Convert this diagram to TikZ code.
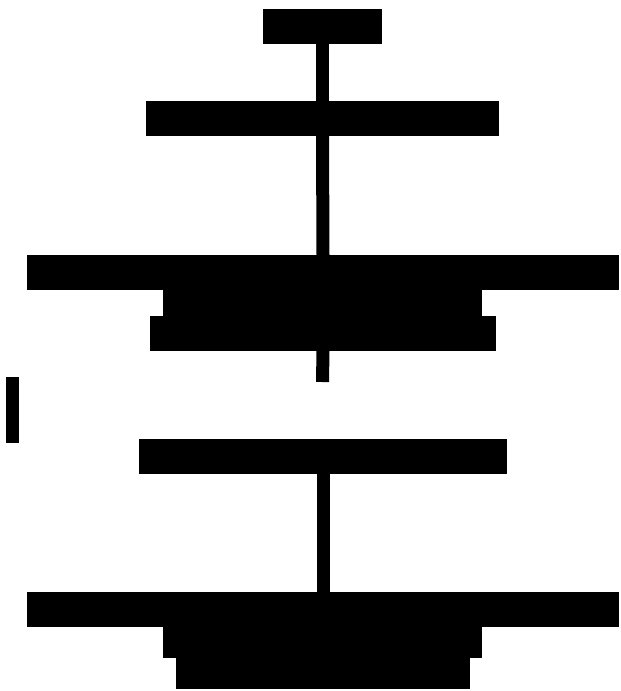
\documentclass[tikz,border=0pt]{standalone}
\usepackage{tikz}

\begin{document}
\begin{tikzpicture}[x=0.03cm,y=-0.03cm,
  blk/.style={fill=black,draw=none,inner sep=0pt,outer sep=0pt},
  stem/.style={line width=0.39cm,black}]
  \useasboundingbox (0,0) rectangle (621,691);
  % upper tree
  \node[blk,minimum width=3.57cm,minimum height=1.05cm] (top) at (322.5,26.5) {};
  \node[blk,minimum width=10.59cm,minimum height=1.05cm] (midA) at (322.5,118.5) {};
  \node[blk,minimum width=17.76cm,minimum height=1.05cm] (wideA) at (323,272.5) {};
  \node[blk,minimum width=9.57cm,minimum height=0.78cm] (subA) at (322.5,303) {};
  \node[blk,minimum width=10.38cm,minimum height=1.05cm] (baseA) at (323,333.5) {};
  \coordinate (endA) at (322.5,382);
  \draw[stem] (top.south) -- (midA.north);
  \draw[stem] (midA.south) -- (wideA.north);
  \draw[stem] (baseA.south) -- (endA);
  % lone bar
  \node[blk,minimum width=0.39cm,minimum height=1.98cm] (bar) at (12.5,410) {};
  % lower tree
  \node[blk,minimum width=11.04cm,minimum height=1.05cm] (midB) at (323,456.5) {};
  \node[blk,minimum width=17.76cm,minimum height=1.05cm] (wideB) at (323,609.5) {};
  \node[blk,minimum width=9.57cm,minimum height=0.93cm] (subB) at (322.5,642.5) {};
  \node[blk,minimum width=8.82cm,minimum height=0.93cm] (baseB) at (323,673.5) {};
  \draw[stem] (midB.south) -- (wideB.north);
\end{tikzpicture}
\end{document}
